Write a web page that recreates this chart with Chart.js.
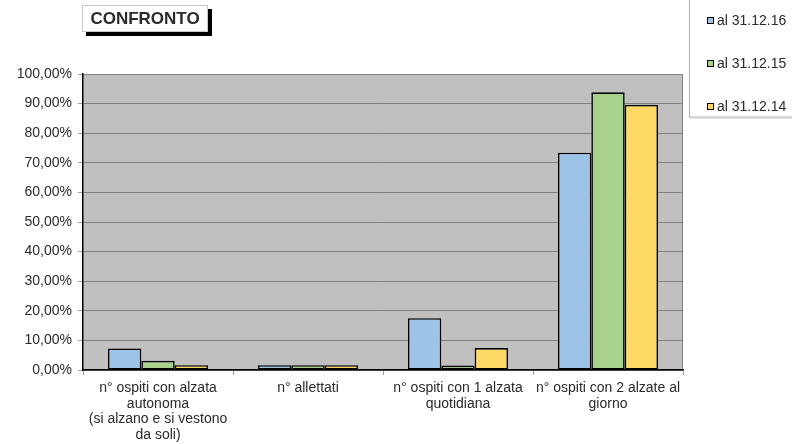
<!DOCTYPE html>
<html>
<head>
<meta charset="utf-8">
<script src="https://cdn.jsdelivr.net/npm/chart.js@4/dist/chart.umd.min.js"></script>
<style>
  html, body { margin: 0; padding: 0; background: #fff; }
  #wrap { width: 792px; height: 444px; position: relative; }
</style>
</head>
<body>
<div id="wrap"><canvas id="chart"></canvas></div>
<script>
// Categories and series
const categories = [
  ['n° ospiti con alzata', 'autonoma', '(si alzano e si vestono', 'da soli)'],
  ['n° allettati'],
  ['n° ospiti con 1 alzata', 'quotidiana'],
  ['n° ospiti con 2 alzate al', 'giorno']
];
const seriesLabels = ['al 31.12.16', 'al 31.12.15', 'al 31.12.14'];
const values2016 = [7.3, 1.6, 17.5, 73.4];
const values2015 = [3.1, 1.6, 1.5, 93.8];
const values2014 = [1.6, 1.6, 7.4, 89.6];
const seriesColors = ['#9dc3e6', '#a9d18e', '#ffd966'];
const yTicks = [0, 10, 20, 30, 40, 50, 60, 70, 80, 90, 100];
const chartTitle = 'CONFRONTO';

const FONT = '"Liberation Sans", Arial, sans-serif';
const TEXT = '#2a2a2a';

// grey plot background with grey top/right frame
const plotBackground = {
  id: 'plotBackground',
  beforeDraw(chart) {
    const { ctx, chartArea: a } = chart;
    ctx.save();
    ctx.fillStyle = '#c0c0c0';
    ctx.fillRect(a.left, a.top, a.right - a.left, a.bottom - a.top);
    ctx.strokeStyle = '#808080';
    ctx.lineWidth = 1;
    ctx.beginPath();
    ctx.moveTo(a.left, a.top + 0.5);
    ctx.lineTo(a.right - 0.5, a.top + 0.5);
    ctx.lineTo(a.right - 0.5, a.bottom);
    ctx.stroke();
    ctx.restore();
  }
};

// title box with drop shadow and boxed legend on the right
const decorations = {
  id: 'decorations',
  afterDraw(chart) {
    const ctx = chart.ctx;
    ctx.save();
    // title box
    ctx.fillStyle = '#000';
    ctx.fillRect(86, 9, 126, 27);
    ctx.fillStyle = '#fff';
    ctx.fillRect(82, 5, 126, 27);
    ctx.strokeStyle = '#c8c8c8';
    ctx.lineWidth = 1;
    ctx.strokeRect(82.5, 5.5, 125, 26);
    ctx.fillStyle = TEXT;
    ctx.font = 'bold 17px ' + FONT;
    ctx.textAlign = 'center';
    ctx.textBaseline = 'middle';
    ctx.fillText(chartTitle, 145, 19);

    // legend box
    ctx.fillStyle = '#fff';
    ctx.fillRect(689, -2, 110, 119);
    ctx.strokeStyle = '#b0b0b0';
    ctx.strokeRect(689.5, -2, 110, 119);
    ctx.strokeStyle = '#e0e0e0';
    ctx.beginPath();
    ctx.moveTo(690, 118.5);
    ctx.lineTo(792, 118.5);
    ctx.stroke();
    ctx.font = '14px ' + FONT;
    ctx.textAlign = 'left';
    chart.data.datasets.forEach((ds, i) => {
      const y = 21 + i * 43;
      ctx.fillStyle = ds.backgroundColor;
      ctx.fillRect(707, y - 4, 7, 7);
      ctx.strokeStyle = '#000';
      ctx.lineWidth = 1;
      ctx.strokeRect(707.5, y - 3.5, 6, 6);
      ctx.fillStyle = TEXT;
      ctx.fillText(ds.label, 717, y);
    });
    ctx.restore();
  }
};

const datasets = [values2016, values2015, values2014].map((vals, i) => ({
  label: seriesLabels[i],
  data: vals,
  backgroundColor: seriesColors[i],
  borderColor: '#000',
  borderWidth: 1.6,
  borderSkipped: false,
  categoryPercentage: 0.667,
  barPercentage: 1
}));

new Chart(document.getElementById('chart'), {
  type: 'bar',
  data: { labels: categories, datasets },
  options: {
    responsive: true,
    maintainAspectRatio: false,
    animation: false,
    layout: { padding: { top: 74, right: 109, bottom: 0, left: 0 } },
    plugins: {
      legend: { display: false },
      title: { display: false },
      tooltip: { enabled: false }
    },
    scales: {
      x: {
        offset: true,
        grid: {
          offset: true,
          drawOnChartArea: false,
          drawTicks: true,
          tickLength: 5,
          color: '#a0a0a0'
        },
        border: { color: '#000', width: 1.5 },
        ticks: {
          color: TEXT,
          font: { family: FONT, size: 14, lineHeight: 1.13 },
          maxRotation: 0,
          autoSkip: false,
          padding: 5
        },
        afterFit(scale) { scale.height = 74; }
      },
      y: {
        min: 0,
        max: 100,
        afterBuildTicks(scale) { scale.ticks = yTicks.map(v => ({ value: v })); },
        grid: {
          color: '#808080',
          tickLength: 5,
          tickColor: '#a0a0a0'
        },
        border: { color: '#000', width: 1.5 },
        ticks: {
          color: TEXT,
          font: { family: FONT, size: 14 },
          padding: 6,
          callback: v => v.toFixed(2).replace('.', ',') + '%'
        },
        afterFit(scale) { scale.width = 83; }
      }
    }
  },
  plugins: [plotBackground, decorations]
});
</script>
</body>
</html>
